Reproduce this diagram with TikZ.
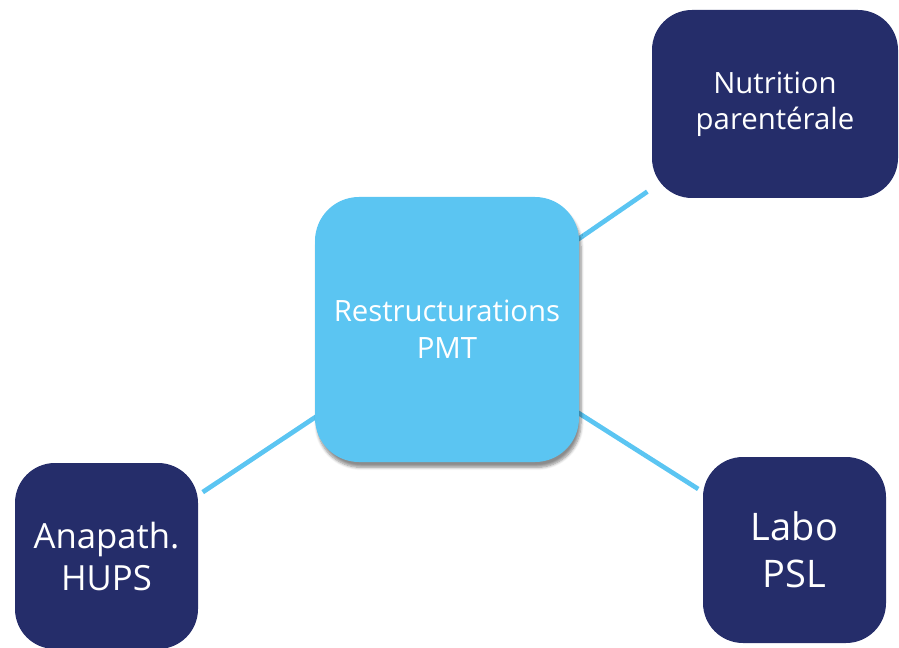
\documentclass[tikz,border=0pt]{standalone}
\usepackage{fontspec}
\setmainfont{Open Sans}
\usetikzlibrary{shadows.blur}
\definecolor{lightblu}{HTML}{5BC5F2}
\definecolor{navy}{HTML}{252D6A}
\tikzset{
  hub/.style={fill=lightblu, rounded corners=33pt, minimum width=198pt, minimum height=198.75pt,
    text=white, align=center, inner sep=0pt,
    blur shadow={shadow xshift=1.5pt, shadow yshift=-4pt, shadow blur steps=6, shadow opacity=45}},
  leaf/.style={fill=navy, rounded corners=30pt, text=white, align=center, inner sep=0pt},
  conn/.style={draw=lightblu, line width=3.5pt, shorten >=4pt}
}
\begin{document}
\begin{tikzpicture}[x=0.75pt, y=-0.75pt]
\useasboundingbox (0,0) rectangle (899,648);
\node[leaf, minimum width=184.5pt, minimum height=141pt, font=\fontsize{22}{27}\selectfont] (tr) at (775,104) {Nutrition\\parentérale};
\node[leaf, minimum width=137.25pt, minimum height=139.5pt, font=\fontsize{28.5}{35}\selectfont] (br) at (794.5,550) {Labo\\PSL};
\node[leaf, minimum width=137.25pt, minimum height=139.5pt, font=\fontsize{26}{31.5}\selectfont] (bl) at (106.5,556) {Anapath.\\HUPS};
\path (447,329.5) coordinate (cc);
\draw[conn] (cc) -- (tr);
\draw[conn] (cc) -- (br);
\draw[conn] (cc) -- (bl);
\node[hub, font=\fontsize{22}{27.75}\selectfont] (c) at (cc) {Restructurations\\PMT};
\end{tikzpicture}
\end{document}
